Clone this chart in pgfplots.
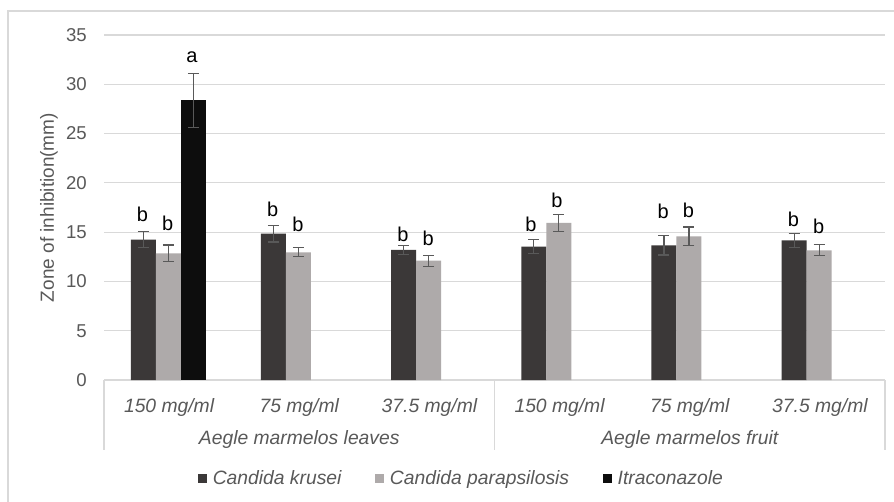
\documentclass[border=0pt]{standalone}
\usepackage{pgfplots}
\pgfplotsset{compat=1.18}
\usepackage{fontspec}
\setmainfont{Liberation Sans}
\definecolor{kr}{HTML}{3B3838}
\definecolor{pa}{HTML}{AEAAAA}
\definecolor{it}{HTML}{0D0D0D}
\definecolor{gridc}{HTML}{D9D9D9}
\definecolor{txt}{HTML}{595959}
\newcommand{\chfont}{\fontsize{18.6}{22}\selectfont}
\newcommand{\catfont}{\fontsize{19.3}{23}\selectfont\itshape}
\newcommand{\letfont}{\fontsize{20}{24}\selectfont}
\begin{document}
\begin{tikzpicture}
\useasboundingbox (0,0) rectangle (894pt,501pt);
\fill[white] (0,0) rectangle (894pt,501pt);
\draw[gridc, line width=1.2pt] (8pt,-5pt) -- (8pt,490pt) -- (900pt,490pt);
\begin{axis}[
  at={(104pt,121pt)}, anchor=south west,
  scale only axis, width=781pt, height=345pt,
  xmin=-0.5, xmax=5.5, ymin=0, ymax=35,
  ytick={0,5,...,35},
  xtick={0,...,5},
  xticklabels={150 mg/ml, 75 mg/ml, 37.5 mg/ml, 150 mg/ml, 75 mg/ml, 37.5 mg/ml},
  major tick length=0pt,
  axis line style={draw=none},
  ymajorgrids, grid style={gridc, line width=1.2pt},
  font=\chfont,
  /pgf/number format/assume math mode=true,
  yticklabel style={text=txt, anchor=east, inner sep=0pt, xshift=-17pt, font=\chfont},
  xticklabel style={text=txt, anchor=base, inner sep=0pt, yshift=-32pt, font=\catfont},
  clip=false,
  legend columns=3,
  legend style={at={(rel axis cs:0.4565,-0.2855)}, anchor=center, draw=none, fill=none,
    font=\catfont, text=txt, nodes={inner sep=0pt},
    /tikz/every odd column/.append style={column sep=6pt},
    /tikz/every even column/.append style={column sep=34pt}},
  legend image code/.code={\fill[#1] (0pt,-4pt) rectangle (8.5pt,4.5pt);},
  error bars/y dir=both, error bars/y explicit,
  error bars/error bar style={txt, line width=1.1pt},
  error bars/error mark options={rotate=90, mark size=5.5pt, line width=1.1pt, txt},
]
\addplot[ybar, bar width=0.192, bar shift=0pt, fill=kr, draw=none]
  coordinates {(-0.198,14.23) +- (0,0.82) (0.802,14.85) +- (0,0.85) (1.802,13.19) +- (0,0.47)
               (2.802,13.53) +- (0,0.68) (3.802,13.66) +- (0,0.98) (4.802,14.17) +- (0,0.70)};
\addlegendentry{Candida krusei}
\addplot[ybar, bar width=0.192, bar shift=0pt, fill=pa, draw=none]
  coordinates {(-0.006,12.85) +- (0,0.85) (0.994,12.95) +- (0,0.45) (1.994,12.10) +- (0,0.55)
               (2.994,15.93) +- (0,0.85) (3.994,14.58) +- (0,0.94) (4.994,13.16) +- (0,0.57)};
\addlegendentry{Candida parapsilosis}
\addplot[ybar, bar width=0.192, bar shift=0pt, fill=it, draw=none]
  coordinates {(0.186,28.37) +- (0,2.75)};
\addlegendentry{Itraconazole}
\addplot[draw=none, mark=none, forget plot, nodes near coords, point meta=explicit symbolic,
  nodes near coords style={anchor=south, inner sep=0pt, text=black, font=\letfont}]
  coordinates {(-0.205,16.06) [b] (-0.01,15.15) [b] (0.175,32.19) [a]
               (0.795,16.5) [b] (0.99,15.0) [b]
               (1.797,14.03) [b] (1.99,13.63) [b]
               (2.78,15.05) [b] (2.98,17.42) [b]
               (3.795,16.3) [b] (3.99,16.47) [b]
               (4.797,15.55) [b] (4.99,14.78) [b]};
\draw[gridc, line width=1.2pt] (rel axis cs:0,0) -- (rel axis cs:0,-0.2029);
\draw[gridc, line width=1.2pt] (rel axis cs:0.5,0) -- (rel axis cs:0.5,-0.2029);
\draw[gridc, line width=1.2pt] (rel axis cs:1,0) -- (rel axis cs:1,-0.2029);
\node[anchor=base, text=txt, font=\catfont, inner sep=0pt] at (rel axis cs:0.25,-0.1884) {Aegle marmelos leaves};
\node[anchor=base, text=txt, font=\catfont, inner sep=0pt] at (rel axis cs:0.75,-0.1884) {Aegle marmelos fruit};
\node[rotate=90, anchor=center, text=txt, font=\fontsize{19}{22}\selectfont, inner sep=0pt] at (rel axis cs:-0.0704,0.5) {Zone of inhibition(mm)};
\end{axis}
\end{tikzpicture}
\end{document}
